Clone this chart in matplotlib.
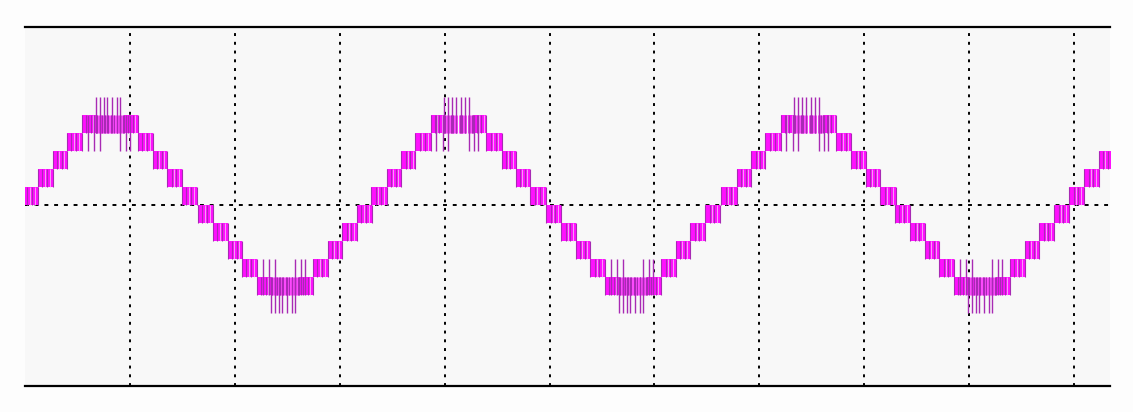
import matplotlib
matplotlib.use("Agg")
import matplotlib.pyplot as plt
import numpy as np

# ---- data (time in ms, amplitude in inverter levels) ----
peak_centers = [4.05, 20.66, 37.34, 53.91]      # crest centres of the positive half-cycles
trough_centers = [12.39, 28.98, 45.61]          # crest centres of the negative half-cycles
# outer distance (ms) from the crest of each switching band k (between level k and k+1)
band_outer = [4.15, 3.43, 2.72, 2.05, 1.33]
band_inner = [3.43, 2.72, 2.05, 1.33, 0.0]
# central part of the top band is drawn as separate pulses, not a solid block
top_solid_inner = 0.67
top_pulse_offsets = [-0.62, -0.48, -0.38, -0.24, -0.10, 0.05, 0.19, 0.33, 0.48, 0.62]
# pulses reaching level 6, and dips down to level 3, around each crest (ms from crest)
spike_offsets = [-0.67, -0.48, -0.29, -0.14, 0.10, 0.33, 0.48]
dip_offsets = [-1.05, -0.76, -0.48, 0.48, 0.76, 0.95]
# positions (fraction of a block's width) of the darker switching lines inside a block
inner_line_frac = [0.3, 0.62]
# positions of narrow light gaps inside a block
gap_frac = [0.45, 0.8]
grid_x = [5, 10, 15, 20, 25, 30, 35, 40, 45, 50]
x_range = (0.0, 51.71)
y_range = (-10.06, 9.89)

fill_col = "#ff10ff"
line_col = "#a82ab4"
gap_col = "#f6b8f6"

fig = plt.figure(figsize=(11.33, 4.12), dpi=100, facecolor="#fdfdfd")
ax = fig.add_axes([25 / 1133, 1 - 386 / 412, 1085 / 1133, 359 / 412])
ax.set_facecolor("#f8f8f8")

def half_cycle(c, s):
    for k in range(5):
        lo, hi = s * k, s * (k + 1)
        o, i = band_outer[k], band_inner[k]
        if k < 4:
            spans = [(c - o, c - i), (c + i, c + o)]
        else:
            spans = [(c - o, c - top_solid_inner), (c + top_solid_inner, c + o)]
        for a, b in spans:
            ax.fill_between([a, b], lo, hi, color=fill_col, linewidth=0, zorder=3)
            ax.vlines([a + f * (b - a) for f in gap_frac], lo, hi, color=gap_col,
                      linewidth=0.6, zorder=4)
            ax.vlines([a, b] + [a + f * (b - a) for f in inner_line_frac], lo, hi,
                      color=line_col, linewidth=0.8, zorder=4)
    tops = [c + d for d in top_pulse_offsets]
    ax.vlines(tops, s * 4, s * 5, color=fill_col, linewidth=1.8, zorder=3)
    ax.vlines(tops, s * 4, s * 5, color=line_col, linewidth=0.7, zorder=4)
    ax.vlines([c + d for d in spike_offsets], s * 4, s * 6, color=line_col,
              linewidth=1.0, zorder=4)
    ax.vlines([c + d for d in dip_offsets], s * 3, s * 5, color=line_col,
              linewidth=1.0, zorder=4)

for c in peak_centers:
    half_cycle(c, 1)
for c in trough_centers:
    half_cycle(c, -1)

ax.set_xlim(*x_range)
ax.set_ylim(*y_range)

for gx in grid_x:
    ax.axvline(gx, color="black", linewidth=1.4, linestyle=(0, (1.5, 3)), zorder=2)
ax.axhline(0, color="black", linewidth=1.4, linestyle=(0, (2, 3)), zorder=2)

for side in ["left", "right"]:
    ax.spines[side].set_visible(False)
for side in ["top", "bottom"]:
    ax.spines[side].set_linewidth(1.6)
    ax.spines[side].set_color("black")
ax.set_xticks([])
ax.set_yticks([])

fig.savefig("out.png", dpi=100, facecolor=fig.get_facecolor())
